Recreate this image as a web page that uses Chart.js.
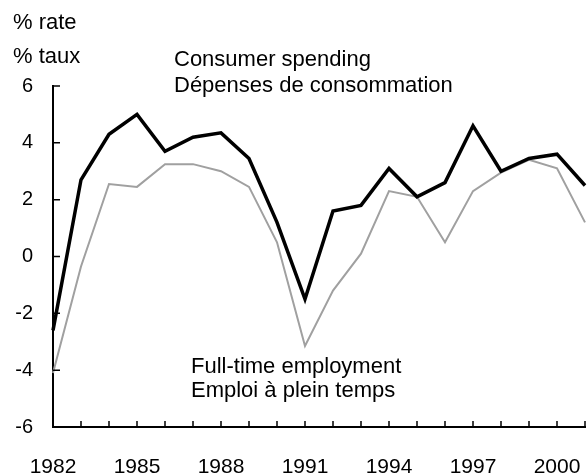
<!DOCTYPE html>
<html>
<head>
<meta charset="utf-8">
<script src="https://cdn.jsdelivr.net/npm/chart.js@4/dist/chart.umd.min.js"></script>
<style>
  html, body { margin: 0; padding: 0; background: #fff; }
  #contenedor { width: 587px; height: 474px; }
</style>
</head>
<body>
<div id="contenedor"><canvas id="grafico"></canvas></div>
<script>
const anios = ["1982", "1983", "1984", "1985", "1986", "1987", "1988", "1989", "1990", "1991",
  "1992", "1993", "1994", "1995", "1996", "1997", "1998", "1999", "2000", "2001"];
const gastoConsumo = [-2.6, 2.7, 4.3, 5.0, 3.7, 4.2, 4.35, 3.45, 1.2, -1.5,
  1.6, 1.8, 3.1, 2.1, 2.6, 4.6, 3.0, 3.45, 3.6, 2.5];
const empleoCompleto = [-4.1, -0.35, 2.55, 2.45, 3.25, 3.25, 3.0, 2.45, 0.5, -3.15,
  -1.2, 0.1, 2.3, 2.1, 0.5, 2.3, 2.95, 3.4, 3.1, 1.2];
const marcasY = [-6, -4, -2, 0, 2, 4, 6];
const aniosConEtiqueta = ["1982", "1985", "1988", "1991", "1994", "1997", "2000"];

const fuente = '"Liberation Sans", Arial, sans-serif';

// marcas de los ejes hacia adentro y los textos del grafico
const marcasYTextos = {
  id: "marcasYTextos",
  afterDraw(chart) {
    const ctx = chart.ctx;
    const ejeX = chart.scales.x;
    const ejeY = chart.scales.y;
    ctx.save();
    ctx.strokeStyle = "#000";
    ctx.lineWidth = 1.5;
    ctx.beginPath();
    anios.forEach((a, i) => {
      const px = ejeX.getPixelForValue(i);
      ctx.moveTo(px, ejeY.bottom);
      ctx.lineTo(px, ejeY.bottom - 6);
    });
    marcasY.forEach(v => {
      const py = ejeY.getPixelForValue(v);
      ctx.moveTo(ejeX.left, py);
      ctx.lineTo(ejeX.left + 7, py);
    });
    ctx.stroke();

    ctx.fillStyle = "#000";
    ctx.textBaseline = "alphabetic";
    ctx.textAlign = "left";
    ctx.font = "22px " + fuente;
    ctx.fillText("% rate", 13, 29);
    ctx.fillText("% taux", 13, 63);
    ctx.fillText("Consumer spending", 174, 66);
    ctx.fillText("Dépenses de consommation", 174, 92);
    ctx.fillText("Full-time employment", 191, 373);
    ctx.fillText("Emploi à plein temps", 191, 397);
    ctx.restore();
  }
};

const grafico = document.getElementById("grafico");
new Chart(grafico, {
  type: "line",
  data: {
    labels: anios,
    datasets: [
      {
        label: "Consumer spending",
        data: gastoConsumo,
        borderColor: "#000",
        borderWidth: 3.5,
        pointRadius: 0,
        tension: 0,
        clip: false,
      },
      {
        label: "Full-time employment",
        data: empleoCompleto,
        borderColor: "#a0a0a0",
        borderWidth: 2,
        pointRadius: 0,
        tension: 0,
        clip: false,
      },
    ],
  },
  options: {
    responsive: true,
    maintainAspectRatio: false,
    animation: false,
    layout: { padding: { top: 86, right: 2, left: 0, bottom: 0 } },
    plugins: { legend: { display: false }, tooltip: { enabled: false } },
    scales: {
      x: {
        type: "category",
        grid: { display: false, drawTicks: false },
        border: { display: true, color: "#000", width: 2 },
        ticks: {
          autoSkip: false,
          maxRotation: 0,
          padding: 28,
          color: "#000",
          font: { family: fuente, size: 21 },
          callback: function (valor) {
            const anio = anios[valor];
            return aniosConEtiqueta.includes(anio) ? anio : "";
          },
        },
        afterFit: function (eje) {
          eje.height = 47;
          eje.paddingLeft = 0;
          eje.paddingRight = 0;
        },
      },
      y: {
        min: -6,
        max: 6,
        grid: { display: false, drawTicks: false },
        border: { display: true, color: "#000", width: 2 },
        ticks: {
          stepSize: 2,
          padding: 20,
          color: "#000",
          font: { family: fuente, size: 20 },
        },
        afterFit: function (eje) { eje.width = 53; },
      },
    },
  },
  plugins: [marcasYTextos],
});
</script>
</body>
</html>
